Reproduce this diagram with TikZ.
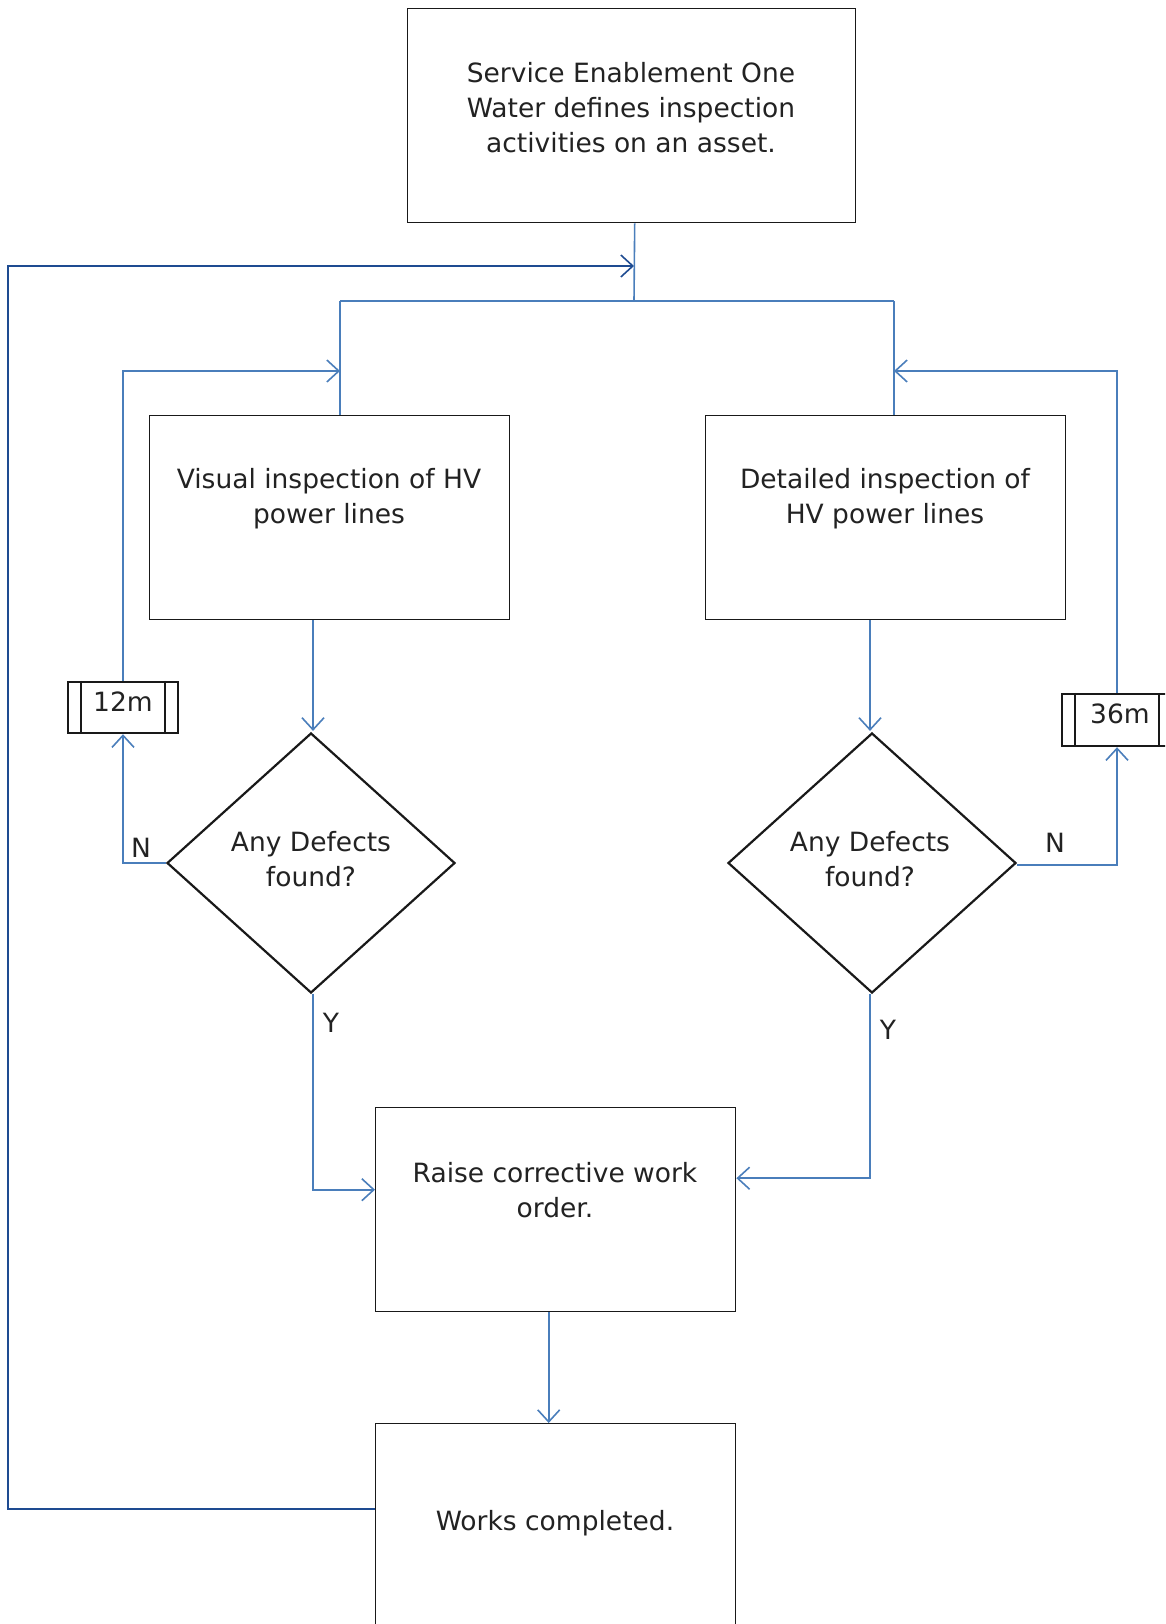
\documentclass[tikz,border=0pt]{standalone}
\usepackage{fontspec}
\setmainfont{DejaVu Sans}
\usetikzlibrary{arrows.meta,shapes.geometric,calc}
\definecolor{lblue}{RGB}{74,126,187}
\definecolor{dblue}{RGB}{30,75,145}
\definecolor{txt}{RGB}{34,34,34}
\begin{document}
\begin{tikzpicture}[x=1pt,y=-1pt,
  box/.style={draw=black!90, line width=1.4pt, inner sep=0pt, anchor=north west},
  dia/.style={draw=black!90, line width=2.2pt, diamond, inner sep=0pt, minimum width=288pt, minimum height=260pt},
  tmr/.style={draw=black!90, line width=2.4pt, inner sep=0pt, minimum width=110pt, minimum height=51pt},
  lbl/.style={font=\fontsize{26.5}{35.2}\selectfont, text=txt, align=center, inner sep=0pt},
  tip/.style={-{Straight Barb[length=12pt,width=22pt,line width=1.6pt]}},
  conn/.style={draw=lblue, line width=1.6pt},
  back/.style={draw=dblue, line width=2pt}]
\useasboundingbox (0,0) rectangle (1165,1624);
\clip (0,0) rectangle (1165,1624);
% boxes
\node[box, minimum width=448pt, minimum height=214pt] (top) at (407,8) {};
\node[box, minimum width=360pt, minimum height=204pt] (lbox) at (149,415) {};
\node[box, minimum width=360pt, minimum height=204pt] (rbox) at (705,415) {};
\node[box, minimum width=360pt, minimum height=204pt] (raise) at (375,1107) {};
\node[box, minimum width=360pt, minimum height=240pt] (works) at (375,1423) {};
\node[dia] (ld) at (311,863) {};
\node[dia] (rd) at (872,863) {};
% timers
\node[tmr] (m12) at (123,707.5) {};
\draw[black!90, line width=2.4pt] ($(m12.north west)+(14,0)$) -- ($(m12.south west)+(14,0)$)
  ($(m12.north east)+(-14,0)$) -- ($(m12.south east)+(-14,0)$);
\node[tmr, minimum height=52pt] (m36) at (1117,720) {};
\draw[black!90, line width=2.4pt] ($(m36.north west)+(14,0)$) -- ($(m36.south west)+(14,0)$)
  ($(m36.north east)+(-14,0)$) -- ($(m36.south east)+(-14,0)$);
% texts
\node[lbl] (ttop) at (631,107.7) {Service Enablement One\\Water defines inspection\\activities on an asset.};
\node[lbl] (tl) at (329,499) {Visual inspection of HV\\power lines};
\node[lbl] (tr) at (885,499) {Detailed inspection of\\HV power lines};
\node[lbl] (tld) at (311,859) {Any Defects\\found?};
\node[lbl] (trd) at (870,859) {Any Defects\\found?};
\node[lbl] (traise) at (555,1190) {Raise corrective work\\order.};
\node[lbl] (tworks) at (555,1523) {Works completed.};
\node[lbl] (t12) at (123,702) {12m};
\node[lbl] (t36) at (1120,714) {36m};
\node[lbl] (nl) at (141,848) {N};
\node[lbl] (nr) at (1055,843) {N};
\node[lbl] (yl) at (331,1023) {Y};
\node[lbl] (yr) at (888,1030) {Y};
% junction coordinates
\coordinate (jt) at ($(top.south)+(3,0)$);
\coordinate (jc) at (634,301);
\coordinate (jl) at (340,301);
\coordinate (jr) at (894,301);
\coordinate (al) at (340,371);
\coordinate (ar) at (894,371);
\coordinate (ab) at (634,266);
% connectors
\draw[conn] (jt) -- (jc);
\draw[conn] (jl) -- (jr);
\draw[conn] (jl) -- (jl |- lbox.north);
\draw[conn] (jr) -- (jr |- rbox.north);
\draw[conn,tip] ($(ld.north |- lbox.south)+(2,0)$) -- ($(ld.north)+(2,-1)$);
\draw[conn,tip] ($(rd.north |- rbox.south)+(-2,0)$) -- ($(rd.north)+(-2,-1)$);
\draw[conn,tip] (m12.north) -- (m12.north |- al) -- (al);
\draw[conn,tip] (m36.north) -- (m36.north |- ar) -- (ar);
\draw[conn,tip] (ld.west) -- (ld.west -| m12.south) -- (m12.south);
\draw[conn,tip] ($(rd.east)+(0,2)$) -- ($(rd.east -| m36.south)+(0,2)$) -- (m36.south);
\coordinate (yle) at ($(raise.west)+(0,-20)$);
\coordinate (yre) at ($(raise.east)+(0,-31.5)$);
\draw[conn,tip] ($(ld.south)+(2,0)$) -- ($(ld.south |- yle)+(2,0)$) -- (yle);
\draw[conn,tip] ($(rd.south)+(-2,0)$) -- ($(rd.south |- yre)+(-2,0)$) -- (yre);
\draw[conn,tip] ($(raise.south)+(-7,0)$) -- ($(works.north)+(-7,0)$);
\coordinate (wb) at ($(works.north west)+(0,86)$);
\draw[back,tip] (wb) -- (8,1509) -- (8,266) -- (ab);
\end{tikzpicture}
\end{document}
